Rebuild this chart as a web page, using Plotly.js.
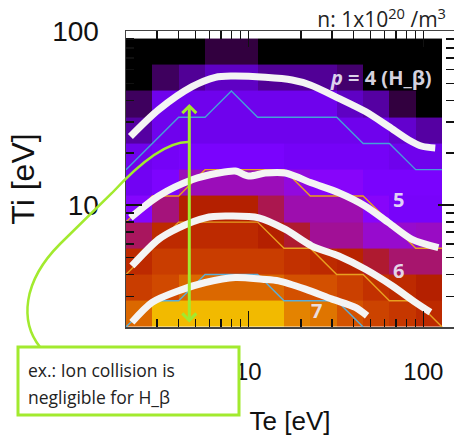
<!DOCTYPE html>
<html><head><meta charset="utf-8">
<script src="https://cdn.plot.ly/plotly-3.0.1.min.js"></script>
<style>html,body{margin:0;padding:0;background:#fff;} #chart{width:454px;height:437px;}</style>
</head><body><div id="chart"></div>
<script>
// ---- data ----
const teEdges = [2, 2.83, 4, 5.66, 8, 11.3, 16, 22.6, 32, 45.3, 64, 90.5, 128];
const tiEdges = [2, 2.83, 4, 5.66, 8, 11.3, 16, 22.6, 32, 45.3, 64, 90.5];
// rows from Ti=2 (bottom) upward; normalized intensity
const row0  = [0.74, 0.90, 0.90, 0.90, 0.90, 0.90, 0.80, 0.77, 0.69, 0.64, 0.60, 0.55];
const row1  = [0.62, 0.66, 0.74, 0.74, 0.74, 0.74, 0.68, 0.68, 0.63, 0.58, 0.55, 0.50];
const row2  = [0.55, 0.62, 0.62, 0.62, 0.62, 0.62, 0.58, 0.55, 0.52, 0.47, 0.43, 0.43];
const row3  = [0.44, 0.55, 0.55, 0.55, 0.55, 0.50, 0.47, 0.40, 0.40, 0.35, 0.35, 0.36];
const row4  = [0.27, 0.42, 0.50, 0.50, 0.50, 0.45, 0.38, 0.38, 0.38, 0.28, 0.22, 0.22];
const row5  = [0.20, 0.24, 0.37, 0.37, 0.37, 0.37, 0.33, 0.28, 0.28, 0.23, 0.23, 0.23];
const row6  = [0.19, 0.21, 0.23, 0.23, 0.23, 0.23, 0.21, 0.21, 0.21, 0.21, 0.19, 0.19];
const row7  = [0.11, 0.19, 0.19, 0.19, 0.19, 0.19, 0.19, 0.19, 0.19, 0.19, 0.15, 0.11];
const row8  = [0.06, 0.19, 0.19, 0.19, 0.19, 0.19, 0.19, 0.19, 0.14, 0.11, 0.04, 0.00];
const row9  = [0.00, 0.06, 0.10, 0.14, 0.14, 0.10, 0.10, 0.10, 0.07, 0.00, 0.00, 0.00];
const row10 = [0.00, 0.00, 0.00, 0.04, 0.04, 0.00, 0.00, 0.00, 0.00, 0.00, 0.00, 0.00];

// thin step lines (cell-boundary contours)
const p4StepTe = [2, 2.83, 4, 5.66, 8, 11.3, 32, 45.3, 64, 90.5, 128];
const p4StepTi = [16, 22.6, 32, 32, 45.3, 32, 32, 22.6, 22.6, 16, 16];
const p5StepTe = [2, 2.83, 4, 5.66, 16, 22.6, 45.3, 64, 90.5, 128];
const p5StepTi = [8, 11.3, 11.3, 16, 16, 11.3, 11.3, 8, 5.66, 5.66];
const p6StepTe = [2, 2.83, 4, 11.3, 16, 22.6, 32, 45.3, 64, 90.5, 128];
const p6StepTi = [4, 5.66, 8, 8, 5.66, 5.66, 4, 4, 2.83, 2.83, 2];
const p7StepTe = [2, 2.83, 4, 5.66, 11.3, 16, 32, 45.3];
const p7StepTi = [2, 2.83, 2.83, 4, 4, 2.83, 2.83, 2];

// thick white hand-drawn curves
const p4FitTe = [2.12, 3.07, 4.77, 6.48, 8.07, 12.5, 17.8, 22.6, 32.9, 46.7, 63.4, 82.6, 98.4, 117];
const p4FitTi = [24.8, 35.3, 47.9, 54.2, 55.1, 54.2, 52.3, 49.0, 41.1, 34.5, 28.3, 23.7, 21.8, 21.3];
const p5FitTe = [2.12, 3.07, 4.77, 6.77, 8.43, 10.05, 12.5, 16.3, 23.1, 32.9, 46.7, 63.4, 86.2, 122];
const p5FitTi = [8.47, 11.3, 14.0, 15.3, 15.7, 14.7, 15.3, 15.3, 13.4, 11.8, 9.88, 7.93, 6.37, 5.71];
const p6FitTe = [2.16, 3.07, 4.0, 5.68, 7.39, 11.5, 16.3, 23.1, 32.9, 46.7, 66.3, 90.1, 109.8];
const p6FitTi = [4.48, 6.37, 7.42, 8.47, 8.66, 8.47, 7.26, 5.83, 5.11, 4.29, 3.45, 2.77, 2.43];
const p7FitTe = [2.16, 2.82, 4.0, 5.68, 8.43, 12.0, 14.9, 21.2, 30.1, 40.9, 47.7];
const p7FitTi = [2.13, 2.77, 3.23, 3.60, 3.85, 3.76, 3.68, 3.30, 2.89, 2.59, 2.32];

// green double arrow (Te, Ti at both ends)
const arrowTe = [4.6, 4.6];
const arrowTi = [2.12, 38.9];

const xMajor = [10, 100], xMajorText = ['10', '100'];
const xMinor = [3, 4, 5, 6, 7, 8, 9, 20, 30, 40, 50, 60, 70, 80, 90];
const yMajor = [10, 100], yMajorText = ['10', '100'];
const yMinor = [3, 4, 5, 6, 7, 8, 9, 20, 30, 40, 50, 60, 70, 80, 90];

const curveLabels = ['<i>p</i> = 4 (H_β)', '5', '6', '7'];
const noteLines = ['ex.: Ion collision is', 'negligible for H_β'];

// ---- build ----
function gnuplotScale(n) {
  const s = [];
  for (let i = 0; i <= n; i++) {
    const x = i / n;
    const r = Math.sqrt(x), g = x * x * x, b = Math.max(0, Math.sin(2 * Math.PI * x));
    s.push([x, `rgb(${Math.round(r*255)},${Math.round(g*255)},${Math.round(b*255)})`]);
  }
  return s;
}
const GREEN = '#a2ea2e';
const L = 126, T = 31, W = 328, H = 296;
const px = x => (x - L) / W;
const py = y => (T + H - y) / H;

const traces = [
  {type: 'heatmap', x: teEdges, y: tiEdges,
   z: [row0, row1, row2, row3, row4, row5, row6, row7, row8, row9, row10],
   colorscale: gnuplotScale(40), zmin: 0, zmax: 1, showscale: false, zsmooth: false, hoverinfo: 'skip'},
  {type: 'scatter', mode: 'lines', x: p4StepTe, y: p4StepTi, line: {color: '#45a0d8', width: 1.4}, hoverinfo: 'skip'},
  {type: 'scatter', mode: 'lines', x: p5StepTe, y: p5StepTi, line: {color: '#e8a020', width: 1.4}, hoverinfo: 'skip'},
  {type: 'scatter', mode: 'lines', x: p6StepTe, y: p6StepTi, line: {color: '#e8a020', width: 1.4}, hoverinfo: 'skip'},
  {type: 'scatter', mode: 'lines', x: p7StepTe, y: p7StepTi, line: {color: '#5aaed8', width: 1.4}, hoverinfo: 'skip'},
];
[[p4FitTe, p4FitTi], [p5FitTe, p5FitTi], [p6FitTe, p6FitTi], [p7FitTe, p7FitTi]].forEach(([xs, ys]) => {
  traces.push({type: 'scatter', mode: 'lines', x: xs, y: ys,
    line: {color: '#f4f4f4', width: 7, shape: 'spline', smoothing: 0.8}, hoverinfo: 'skip'});
});

const tickFontX = {family: 'Liberation Sans, Arial, sans-serif', size: 24, color: '#111'};
const tickFontY = {family: 'Liberation Sans, Arial, sans-serif', size: 28, color: '#111'};
const lbl = {family: 'Open Sans, sans-serif', size: 20, color: 'rgba(236,232,246,0.92)', weight: 'bold'};

const curve = `M ${px(189)},${py(142)} Q ${px(160)},${py(141)} ${px(112)},${py(193)} L ${px(60)},${py(244)} C ${px(22)},${py(282)} ${px(20)},${py(322)} ${px(40)},${py(347)}`;

const labelPos = [[328, 77], [391, 199], [391, 270], [309, 310]];
const annotations = [
  {x: Math.log10(arrowTe[0]), y: Math.log10(arrowTi[0]), ax: Math.log10(arrowTe[1]), ay: Math.log10(arrowTi[1]),
   xref: 'x', yref: 'y', axref: 'x', ayref: 'y', text: '', showarrow: true,
   arrowhead: 4, startarrowhead: 4, arrowside: 'end+start', arrowwidth: 3, arrowsize: 0.9, startarrowsize: 0.9,
   arrowcolor: GREEN, standoff: 0, startstandoff: 0},
];
curveLabels.forEach((t, i) => annotations.push({xref: 'paper', yref: 'paper', x: px(labelPos[i][0]), y: py(labelPos[i][1]),
  xanchor: 'left', yanchor: 'middle', text: t, showarrow: false, font: lbl}));
noteLines.forEach((t, i) => annotations.push({xref: 'paper', yref: 'paper', x: px(26), y: py(370 + 27 * i),
  xanchor: 'left', yanchor: 'middle', align: 'left', text: t, showarrow: false,
  font: {family: 'Open Sans, sans-serif', size: 17.5, color: '#222'}}));

const layout = {
  width: 454, height: 437,
  margin: {l: L, r: 454 - L - W, t: T, b: 437 - T - H},
  paper_bgcolor: '#fff', plot_bgcolor: '#fff',
  showlegend: false,
  title: {text: 'n: 1x10<sup>20</sup> /m<sup>3</sup>', xref: 'container', yref: 'container',
          x: 446/454, xanchor: 'right', y: 1 - 20/437, yanchor: 'middle',
          font: {family: 'Open Sans, sans-serif', size: 21, color: '#222'}},
  xaxis: {type: 'log', range: [Math.log10(2), Math.log10(2) + W/175],
    tickmode: 'array', tickvals: xMajor, ticktext: xMajorText,
    ticks: 'inside', ticklen: 16, tickwidth: 1.5, tickcolor: '#111',
    minor: {tickmode: 'array', tickvals: xMinor, ticks: 'inside', ticklen: 8, tickwidth: 1.5, tickcolor: '#111', showgrid: false},
    showline: true, mirror: 'allticks', linecolor: '#444', linewidth: 1.5,
    showgrid: false, zeroline: false, tickfont: tickFontX, ticklabelstandoff: 23,
    title: {text: 'Te [eV]', font: {family: 'Liberation Sans, Arial, sans-serif', size: 26, color: '#111'}, standoff: 27}},
  yaxis: {type: 'log', range: [Math.log10(2), 2],
    tickmode: 'array', tickvals: yMajor, ticktext: yMajorText,
    ticks: 'inside', ticklen: 16, tickwidth: 1.5, tickcolor: '#111',
    minor: {tickmode: 'array', tickvals: yMinor, ticks: 'inside', ticklen: 8, tickwidth: 1.5, tickcolor: '#111', showgrid: false},
    showline: true, mirror: 'allticks', linecolor: '#444', linewidth: 1.5,
    showgrid: false, zeroline: false, tickfont: tickFontY, ticklabelstandoff: 20,
    title: {text: 'Ti [eV]', font: {family: 'Liberation Sans, Arial, sans-serif', size: 32, color: '#111'}, standoff: 8}},
  shapes: [
    {type: 'path', xref: 'paper', yref: 'paper', path: curve, line: {color: GREEN, width: 2.5}, layer: 'above'},
    {type: 'rect', xref: 'paper', yref: 'paper', x0: px(18), x1: px(239), y0: py(347), y1: py(415),
     line: {color: GREEN, width: 3}, fillcolor: '#fff', layer: 'above'},
  ],
  annotations: annotations,
};
Plotly.newPlot('chart', traces, layout, {staticPlot: true, displayModeBar: false});
</script></body></html>
